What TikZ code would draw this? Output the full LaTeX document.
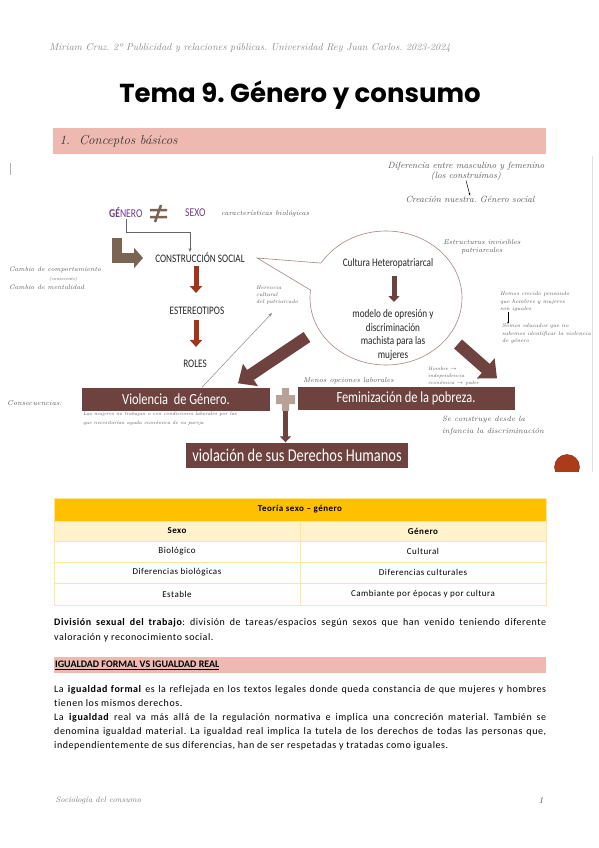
\documentclass[tikz,border=0pt]{standalone}
\usepackage{fontspec}
\setmainfont{Carlito}
\newfontfamily\bodyfont[LetterSpace=5.5,Ligatures=NoCommon]{Carlito}
\newfontfamily\condfont[FakeStretch=0.8]{Carlito}
\newfontfamily\titlefont{Poppins}
\newfontfamily\handfont{Latin Modern Roman}
\usetikzlibrary{arrows.meta,positioning,calc}
\definecolor{secpink}{RGB}{237,185,176}
\definecolor{purp}{RGB}{112,58,140}
\definecolor{taupe}{RGB}{122,100,82}
\definecolor{rust}{RGB}{163,52,28}
\definecolor{banner}{RGB}{110,66,62}
\definecolor{plusc}{RGB}{184,162,152}
\definecolor{tabhead}{RGB}{255,192,0}
\definecolor{tablight}{RGB}{255,242,204}
\definecolor{tabline}{RGB}{255,230,153}
\definecolor{hand}{RGB}{90,90,90}
\definecolor{bubline}{RGB}{165,135,130}

\begin{document}
\frenchspacing
\begin{tikzpicture}[
  x=1pt, y=-1pt,
  hand/.style={font=\handfont\itshape\fontsize{7}{8}\selectfont, text=hand, align=left, inner sep=0pt},
  label/.style={font=\condfont\fontsize{12}{13}\selectfont, text=black!85, inner sep=1pt},
  bannerbox/.style={fill=banner, text=white, font=\condfont\fontsize{15.5}{17}\selectfont, minimum height=23pt, inner sep=0pt},
  redarrow/.style={rust, line width=5pt, -{Triangle[width=12pt,length=7pt]}},
  bigarrow/.style={banner, line width=12pt, -{Triangle[width=26pt,length=15pt]}},
  thinarrow/.style={gray, line width=0.5pt, -{Stealth[length=4pt]}},
  cell/.style={font=\bodyfont\fontsize{9}{11}\selectfont, inner sep=0pt}
]
\fill[white] (0,0) rectangle (599,848);
\useasboundingbox (0,0) rectangle (599,848);

% header and title
\node[font=\handfont\itshape\fontsize{10}{12}\selectfont, text=black!45] (header) at (250,48)
  {Miriam Cruz. 2º Publicidad y relaciones públicas. Universidad Rey Juan Carlos. 2023-2024};
\node[font=\titlefont\bfseries\fontsize{26}{30}\selectfont] (title) at (300,95) {Tema 9. Género y consumo};

\fill[secpink] (53,128) rectangle (546,154);
\node[anchor=west, font=\handfont\itshape\fontsize{13}{15}\selectfont, text=black!80] (sec1) at (56,141) {1.\ \ Conceptos básicos};
\draw[black!30, line width=0.6pt] (10,163) -- (10,175);
\draw[black!12, line width=0.6pt] (592,156) -- (592,472);

% genero / sexo
\node[label, text=purp, anchor=west] (genero) at (108,213) {\textbf{GÉ}NERO};
\draw[taupe, line width=2.5pt] (150,210) -- (167,210) (150,217) -- (167,217) (161,205) -- (155,222);
\node[label, text=purp, anchor=west] (sexo) at (184,213) {SEXO};
\node[hand, anchor=west] (bio) at (221,214) {características biológicas};

\node[label, font=\condfont\fontsize{11.5}{13}\selectfont] (construccion) at (200,258) {CONSTRUCCIÓN SOCIAL};
\node[label, font=\condfont\fontsize{11.5}{13}\selectfont] (estereotipos) at (197,311) {ESTEREOTIPOS};
\node[label, font=\condfont\fontsize{11.5}{13}\selectfont] (roles) at (195,364) {ROLES};

\draw[thinarrow, black!60] (genero.south) -- ++(0,13) -| ([xshift=-10pt]construccion.north);
\draw[taupe, line width=10pt, line join=miter, -{Triangle[width=20pt,length=9pt]}] (117,238) -- (117,258) -- (143,258);
\draw[redarrow] (construccion.south) ++(-4,2) -- ++(0,27);
\draw[redarrow] (estereotipos.south) ++(-1,4) -- ++(0,27);

% speech bubble
\coordinate (bub) at (386,298);
\coordinate (tail) at (257,258);
\coordinate (bubA) at ($(bub)+(211.4:76 and 67)$);
\coordinate (bubB) at ($(bub)+(186.8:76 and 67)$);
\draw[bubline, fill=white, line width=0.6pt] (bub) ellipse [x radius=76, y radius=67];
\fill[white] (tail) -- (bubA) -- (bub) -- (bubB) -- cycle;
\draw[bubline, line width=0.6pt] (bubA) -- (tail) -- (bubB);
\node[label, font=\condfont\fontsize{11.5}{13}\selectfont] (cultura) at (388,263) {Cultura Heteropatriarcal};
\node[label, font=\condfont\fontsize{11.5}{13.5}\selectfont, align=center] (modelo) at (393,335)
  {modelo de opresión y\\discriminación\\machista para las\\mujeres};
\draw[banner, line width=5pt, -{Triangle[width=11pt,length=6pt]}] (394,276) -- (394,302);

% notes
\node[hand, font=\handfont\itshape\fontsize{9}{10}\selectfont, align=center] (difer) at (466,171)
  {Diferencia entre masculino y femenino\\(los construimos)};
\node[hand, font=\handfont\itshape\fontsize{9}{10}\selectfont] (creacion) at (470,199) {Creación nuestra. Género social};
\draw[hand, line width=0.5pt, -{Stealth[length=2.5pt]}] (difer.south) -- (creacion.north);
\node[hand, align=center] (estruct) at (482,247) {Estructuras invisibles\\patriarcales};
\node[hand, anchor=west, font=\handfont\itshape\fontsize{5.5}{7}\selectfont] (herencia) at (256,295)
  {Herencia\\cultural\\del patriarcado};
\node[hand, anchor=west, font=\handfont\itshape\fontsize{6.5}{9}\selectfont] (cambio) at (9,278)
  {Cambio de comportamiento\\\hspace*{40pt}{\fontsize{4.5}{5}\selectfont(consciente)}\\Cambio de mentalidad};
\node[hand, anchor=west, font=\handfont\itshape\fontsize{5.5}{7.5}\selectfont] (hemos) at (500,302)
  {Hemos crecido pensando\\que hombres y mujeres\\son iguales};
\node[hand, anchor=west, font=\handfont\itshape\fontsize{5.5}{7.5}\selectfont] (somos) at (502,334)
  {Somos educados que no\\sabemos identificar la violencia\\de género};
\draw[hand, line width=0.4pt, -{Stealth[length=2pt]}] (hemos.south -| 508,0) -- (somos.north -| 508,0);

% consequences
\node[bannerbox, minimum width=188pt] (violencia) at (176,399) {Violencia\ \ de Género.};
\node[bannerbox, minimum width=217pt] (feminizacion) at (406,398) {Feminización de la pobreza.};
\node[bannerbox, minimum width=222pt, minimum height=25pt, font=\condfont\fontsize{18}{20}\selectfont] (violacion) at (297,455) {violación de sus Derechos Humanos};
\fill[plusc] (276,395) rectangle (295,404) (282,388) rectangle (289,411);
\coordinate (plus) at (285.5,411);
\draw[banner, line width=5pt, -{Triangle[width=11pt,length=6pt]}] (plus) -- (violacion.north -| plus);

\coordinate (bigA) at (307,337);
\coordinate (bigB) at (458,344);
\draw[bigarrow] (bigA) -- ([xshift=62pt,yshift=4pt]violencia.north);
\draw[bigarrow] (bigB) -- ([xshift=91pt,yshift=8pt]feminizacion.north);
\draw[thinarrow, black!45] ([xshift=26pt]violencia.north) -- (272,313);

\node[hand, anchor=west] (consec) at (7,403) {Consecuencias:};
\node[hand, anchor=north west, font=\handfont\itshape\fontsize{5}{8.5}\selectfont] (mujeres) at (83,412)
  {Las mujeres no trabajan o con condiciones laborales por las\\que necesitarían ayuda económica de su pareja};
\node[hand, anchor=west] (menos) at (303,381) {Menos opciones laborales};
\node[hand, anchor=west, font=\handfont\itshape\fontsize{5}{7}\selectfont] (hombre) at (428,376)
  {Hombre $\to$\\independencia\\económica $\to$ poder};
\node[hand, anchor=west, font=\handfont\itshape\fontsize{7.5}{12}\selectfont] (infancia) at (442,426)
  {Se construye desde la\\infancia la discriminación};

\begin{scope}
  \clip (540,440) rectangle (592,471);
  \fill[rust!90!orange] (567,467) circle (12.5);
  \draw[rust!70!black, line width=0.4pt] (567,467) circle (12.5);
\end{scope}

% table
\fill[tabhead] (54,498) rectangle (546,521);
\fill[tablight] (54,521) rectangle (546,541);
\draw[tabline, line width=0.6pt] (54,498) rectangle (546,605)
  (54,521) -- (546,521) (54,541) -- (546,541) (54,562) -- (546,562) (54,583) -- (546,583)
  (300,521) -- (300,605);
\node[cell, font=\bodyfont\bfseries\fontsize{9}{11}\selectfont] (teoria) at (300,509) {Teoría sexo – género};
\node[cell, font=\bodyfont\bfseries\fontsize{9}{11}\selectfont] (hsexo) at (177,531) {Sexo};
\node[cell, font=\bodyfont\bfseries\fontsize{9}{11}\selectfont] (hgenero) at (423,531) {Género};
\node[cell] (r1a) at (177,551) {Biológico};
\node[cell] (r1b) at (423,551) {Cultural};
\node[cell] (r2a) at (177,572) {Diferencias biológicas};
\node[cell] (r2b) at (423,572) {Diferencias culturales};
\node[cell] (r3a) at (177,594) {Estable};
\node[cell] (r3b) at (423,594) {Cambiante por épocas y por cultura};

% text
\node[anchor=north west, text width=492pt, align=justify, inner sep=0pt, font=\bodyfont\fontsize{10}{15}\selectfont] (division) at (54,618)
  {\hyphenpenalty=10000 \textbf{División sexual del trabajo}: división de tareas/espacios según sexos que han venido teniendo diferente\linebreak valoración y reconocimiento social.};
\fill[secpink] (54,657) rectangle (546,673);
\node[anchor=west, inner sep=0pt, font=\bfseries\fontsize{10}{12}\selectfont] (igualdad) at (55,665) {\underline{IGUALDAD FORMAL VS IGUALDAD REAL}};
\node[anchor=north west, text width=492pt, align=justify, inner sep=0pt, font=\bodyfont\fontsize{10}{14}\selectfont] (formal) at (54,685)
  {\hyphenpenalty=10000 La \textbf{igualdad formal} es la reflejada en los textos legales donde queda constancia de que mujeres y hombres\linebreak tienen los mismos derechos.\par
   La \textbf{igualdad} real va más allá de la regulación normativa e implica una concreción material. También se\linebreak denomina igualdad material. La igualdad real implica la tutela de los derechos de todas las personas que,\linebreak independientemente de sus diferencias, han de ser respetadas y tratadas como iguales.};

% footer
\node[anchor=west, font=\handfont\itshape\fontsize{8}{10}\selectfont, text=black!50] (footer) at (52,800) {Sociología del consumo};
\node[font=\handfont\itshape\fontsize{9}{10}\selectfont, text=black!70] (page) at (541,800) {1};
\end{tikzpicture}
\end{document}
